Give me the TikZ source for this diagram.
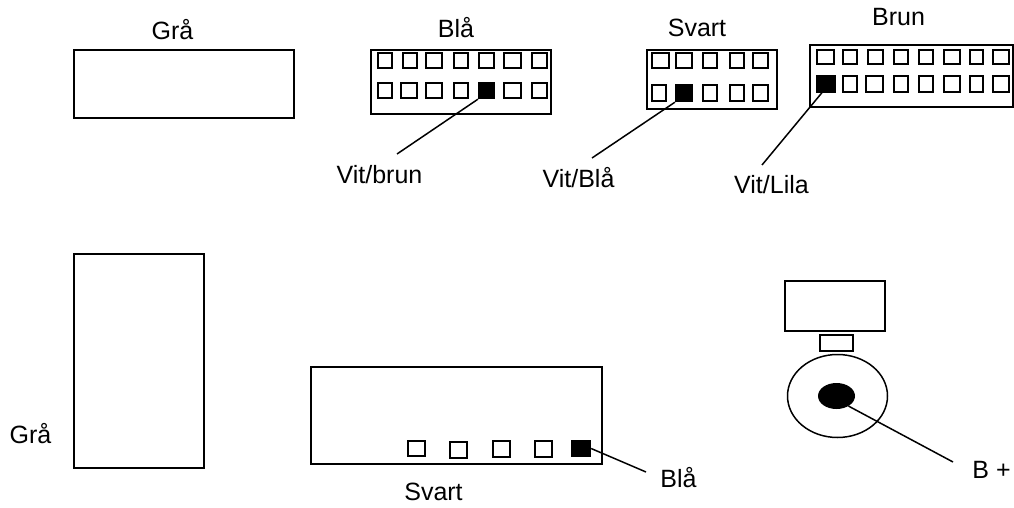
\documentclass[tikz,border=0pt]{standalone}
\usepackage{fontspec}
\usetikzlibrary{shapes.geometric}
\setmainfont{Liberation Sans}
\begin{document}
\begin{tikzpicture}[
        x=1pt, y=-1pt,
        every node/.style={inner sep=0pt, font=\fontsize{25}{30}\selectfont},
        box/.style={draw, rectangle, line width=1.8pt},
        pinbox/.style={draw, rectangle, line width=1.8pt, minimum height=14.5pt},
        blackpin/.style={pinbox, fill=black},
        tag/.style={anchor=base},
        wire/.style={line width=1.5pt}
    ]
      \useasboundingbox (0,0) rectangle (1014,508);

      % Upper connectors
      \node[box, minimum width=220.5, minimum height=68.5] (gray) at (184,84) {};
      \node[tag] (graylabel) at (172.5,40) {Grå};

      \node[box, minimum width=180.5, minimum height=64.5] (blue) at (461,82) {};
      \node[tag] (bluelabel) at (456,38) {Blå};
      \foreach \xa/\xb [count=\i] in {377/393, 402/418, 425/443, 453/469, 478/495, 503/522, 531/548}
        \node[pinbox, minimum width=\xb-\xa-1.8] (bt\i) at ({(\xa+\xb)/2},60.5) {};
      \foreach \xa/\xb [count=\i] in {377/393, 400/418, 425/443, 453/469, 503/522, 531/548}
        \node[pinbox, minimum width=\xb-\xa-1.8, minimum height=15.5] (bb\i) at ({(\xa+\xb)/2},90.5) {};
      \node[blackpin, minimum width=15.2, minimum height=15.5] (bwhite) at (486.5,90.5) {};
      \coordinate (bend) at (397,154);
      \draw[wire] (bwhite.south west) -- (bend);
      \node[tag] (bwlabel) at (379.5,183) {Vit/brun};

      \node[box, minimum width=130.5, minimum height=59.5] (black) at (712,79.5) {};
      \node[tag] (blacklabel) at (697,37) {Svart};
      \foreach \xa/\xb [count=\i] in {651/670, 675/693, 702/718, 729/745, 752/769}
        \node[pinbox, minimum width=\xb-\xa-1.8] (st\i) at ({(\xa+\xb)/2},60.5) {};
      \foreach \xa/\xb [count=\i] in {651/667, 702/718, 729/745, 752/769}
        \node[pinbox, minimum width=\xb-\xa-1.8, minimum height=16.5] (sb\i) at ({(\xa+\xb)/2},93) {};
      \node[blackpin, minimum width=16.2, minimum height=16.5] (swhite) at (684,93) {};
      \coordinate (send) at (592,158);
      \draw[wire] (swhite.south west) -- (send);
      \node[tag] (swlabel) at (578.5,187) {Vit/Blå};

      \node[box, minimum width=203.5, minimum height=62.5] (brown) at (911.5,76) {};
      \node[tag] (brownlabel) at (898.5,26) {Brun};
      \foreach \xa/\xb [count=\i] in {816/835, 842/858, 867/884, 893/909, 918/934, 943/961, 969/984, 992/1010}
        \node[pinbox, minimum width=\xb-\xa-1.8] (nt\i) at ({(\xa+\xb)/2},57) {};
      \foreach \xa/\xb [count=\i] in {842/858, 865/884, 893/909, 918/934, 943/961, 969/984, 992/1010}
        \node[pinbox, minimum width=\xb-\xa-1.8, minimum height=15.5] (nb\i) at ({(\xa+\xb)/2},84) {};
      \node[blackpin, minimum width=18.2, minimum height=15.5] (nwhite) at (826,84) {};
      \coordinate (nend) at (762,165);
      \draw[wire] (nwhite.245) -- (nend);
      \node[tag] (nwlabel) at (771.5,193) {Vit/Lila};

      % Lower connectors
      \node[box, minimum width=130.5, minimum height=214.5] (tall) at (139,361) {};
      \node[tag] (talllabel) at (30.5,443) {Grå};

      \node[box, minimum width=291.5, minimum height=97.5] (wide) at (456.5,415.5) {};
      \node[tag] (widelabel) at (433.5,500) {Svart};
      \foreach \xa/\ya [count=\i] in {407/448.5, 449/450, 492/449, 534/449}
        \node[pinbox, minimum width=17.5, minimum height=15.5] (w\i) at (\xa+9.5,\ya) {};
      \node[blackpin, minimum width=18.5, minimum height=15.5] (wblue) at (581,448.5) {};
      \coordinate (wend) at (646,472);
      \draw[wire] (wblue.east) -- (wend);
      \node[tag] (wbluelabel) at (678.5,487) {Blå};

      % Battery terminal
      \node[box, minimum width=100.5, minimum height=50.5] (top) at (835,306) {};
      \node[box, minimum width=33.5, minimum height=16.5] (neck) at (836.5,343) {};
      \node[draw, ellipse, line width=1.5pt, minimum width=100, minimum height=83] (ring) at (837.5,396) {};
      \node[fill=black, ellipse, minimum width=37, minimum height=26] (stud) at (836.5,396) {};
      \coordinate (bplusend) at (953,462);
      \draw[wire] (stud.-40) -- (bplusend);
      \node[tag] (bpluslabel) at (991.5,478) {B +};
    \end{tikzpicture}
\end{document}
